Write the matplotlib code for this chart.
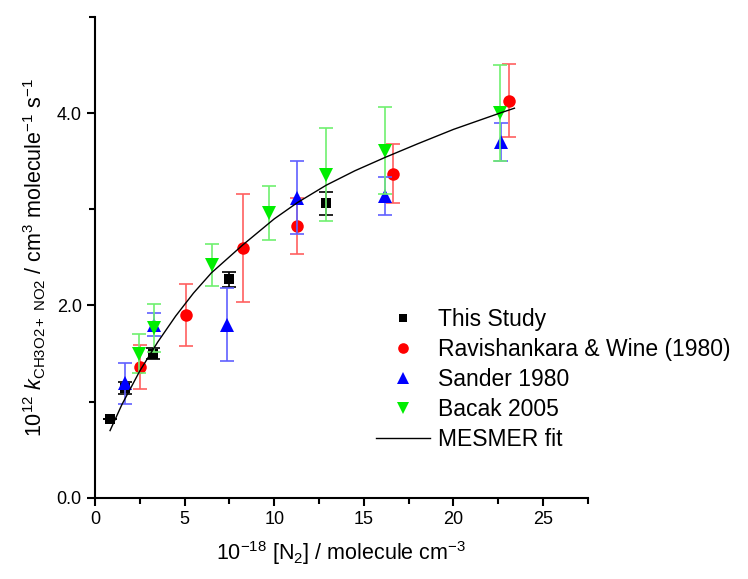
import matplotlib
matplotlib.use("Agg")
import matplotlib.pyplot as plt
from matplotlib.ticker import MultipleLocator, FormatStrFormatter

plt.rcParams['font.family'] = 'Liberation Sans'
plt.rcParams['mathtext.fontset'] = 'custom'
plt.rcParams['mathtext.rm'] = 'Liberation Sans'
plt.rcParams['mathtext.it'] = 'Liberation Sans:italic'

# This Study
study_x = [0.84, 1.7, 3.25, 7.45, 12.87]
study_y = [0.82, 1.14, 1.50, 2.27, 3.06]
study_err = [0.0, 0.06, 0.06, 0.08, 0.12]

# Ravishankara & Wine (1980)
rav_x = [2.5, 5.05, 8.25, 11.25, 16.6, 23.1]
rav_y = [1.36, 1.90, 2.60, 2.83, 3.37, 4.13]
rav_err = [0.23, 0.32, 0.56, 0.29, 0.31, 0.38]

# Sander 1980
san_x = [1.7, 3.3, 7.38, 11.28, 16.2, 22.65]
san_y = [1.19, 1.80, 1.80, 3.12, 3.14, 3.70]
san_err = [0.21, 0.12, 0.38, 0.38, 0.20, 0.20]

# Bacak 2005
bac_x = [2.46, 3.3, 6.54, 9.7, 12.87, 16.2, 22.6]
bac_y = [1.50, 1.77, 2.42, 2.96, 3.36, 3.61, 4.00]
bac_err = [0.20, 0.25, 0.22, 0.28, 0.48, 0.45, 0.50]

# MESMER fit
fit_x = [0.84, 1.5, 2.5, 3.5, 4.5, 5.5, 6.5, 8.25, 10.0, 11.3, 12.9, 14.5, 16.2, 18.0, 20.0, 22.6, 23.4]
fit_y = [0.70, 0.97, 1.32, 1.62, 1.89, 2.13, 2.34, 2.63, 2.90, 3.07, 3.25, 3.40, 3.54, 3.68, 3.83, 4.00, 4.05]

fig = plt.figure(figsize=(7.48, 5.79), dpi=100)
ax = fig.add_axes([0.127, 0.140, 0.659, 0.831])

series = [
    (study_x, study_y, study_err, 's', 'black', 'black', 7, 'This Study'),
    (rav_x, rav_y, rav_err, 'o', 'red', '#ff6060', 9, 'Ravishankara & Wine (1980)'),
    (san_x, san_y, san_err, '^', 'blue', '#6060ff', 9.5, 'Sander 1980'),
    (bac_x, bac_y, bac_err, 'v', '#00ee00', '#70f070', 9.5, 'Bacak 2005'),
]
for xs, ys, es, m, c, ec, ms, lab in series:
    ax.errorbar(xs, ys, yerr=es, fmt='none', ecolor=ec, elinewidth=1.2,
                capsize=5, capthick=1.2)
    ax.plot(xs, ys, linestyle='none', marker=m, color=c, markersize=ms,
            markeredgewidth=0, label=lab)

ax.plot(fit_x, fit_y, color='black', linewidth=1, label='MESMER fit')

ax.set_xlim(0, 27.5)
ax.set_ylim(0, 5.0)
ax.xaxis.set_major_locator(MultipleLocator(5))
ax.xaxis.set_minor_locator(MultipleLocator(2.5))
ax.yaxis.set_major_locator(MultipleLocator(2))
ax.yaxis.set_minor_locator(MultipleLocator(1))
ax.yaxis.set_major_formatter(FormatStrFormatter('%.1f'))
ax.spines['top'].set_visible(False)
ax.spines['right'].set_visible(False)
ax.spines['left'].set_linewidth(1.5)
ax.spines['bottom'].set_linewidth(1.5)
ax.tick_params(which='major', length=6, width=1.5, labelsize=13)
ax.tick_params(which='minor', length=4, width=1.5)

ax.set_xlabel(r'10$^{-18}$ [N$_2$] / molecule cm$^{-3}$', fontsize=15.5, labelpad=8)
ax.set_ylabel(r'10$^{12}$ $\mathit{k}_{\mathrm{CH3O2+\ NO2}}$ / cm$^3$ molecule$^{-1}$ s$^{-1}$',
              fontsize=15.5, labelpad=6)

ax.legend(loc='upper left', bbox_to_anchor=(0.503, 0.468), bbox_transform=fig.transFigure,
          frameon=False, fontsize=16.5, handlelength=2.36, handletextpad=0.35,
          labelspacing=0.30, borderpad=0, borderaxespad=0, markerscale=0.85)

fig.savefig('out.png', dpi=100)
